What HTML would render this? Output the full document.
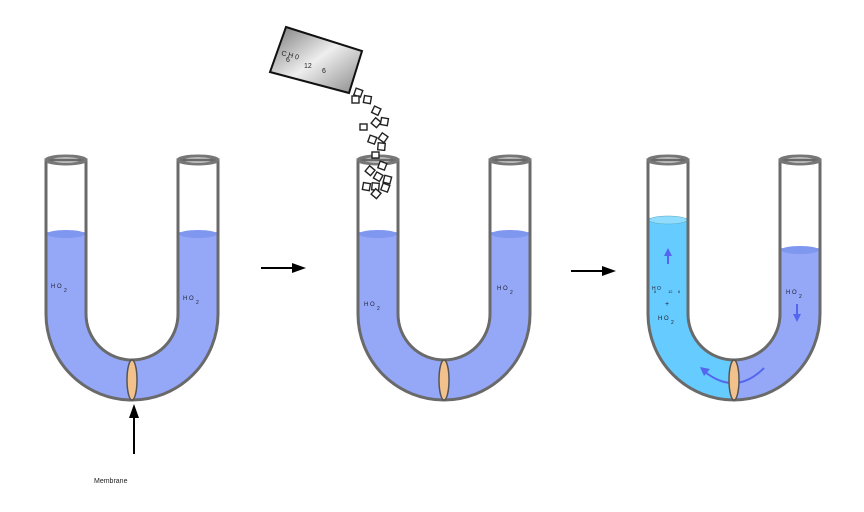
<!DOCTYPE html>
<html><head><meta charset="utf-8"><style>
html,body{margin:0;padding:0;background:#fff;width:864px;height:512px;overflow:hidden}
svg{display:block}
text{font-family:"Liberation Sans",sans-serif}
</style></head><body>
<svg width="864" height="512" viewBox="0 0 864 512" xmlns="http://www.w3.org/2000/svg">
<defs>
<linearGradient id="glass" x1="0" x2="1" y1="0" y2="0">
<stop offset="0" stop-color="#555"/><stop offset="0.5" stop-color="#ddd"/><stop offset="1" stop-color="#333"/>
</linearGradient>
<linearGradient id="box" x1="0" x2="1" y1="0" y2="1">
<stop offset="0" stop-color="#777"/><stop offset="0.5" stop-color="#eee"/><stop offset="1" stop-color="#888"/>
</linearGradient>
<path id="U" d="M46,160 L46,314 A86,86 0 0 0 218,314 L218,160 L178,160 L178,314 A46,46 0 0 1 86,314 L86,160 Z"/>
<clipPath id="cu"><use href="#U"/></clipPath>
</defs>

<!-- Tube 1 -->
<g>
<g clip-path="url(#cu)">
<rect x="40" y="232" width="190" height="180" fill="#95a8f8"/>
</g>
<ellipse cx="66" cy="234" rx="19" ry="4" fill="#8097f0"/>
<ellipse cx="198" cy="234" rx="19" ry="4" fill="#8097f0"/>
<use href="#U" fill="none" stroke="#6a6a6a" stroke-width="3"/>
<ellipse cx="66" cy="160" rx="20" ry="4" fill="none" stroke="#777" stroke-width="3"/>
<ellipse cx="198" cy="160" rx="20" ry="4" fill="none" stroke="#777" stroke-width="3"/>
<ellipse cx="132" cy="380" rx="5" ry="20" fill="#f3c28c" stroke="#555" stroke-width="1.5"/>
<text x="51" y="288" font-size="6" fill="#223">H O</text><text x="64" y="292" font-size="5" fill="#223">2</text>
<text x="183" y="300" font-size="6" fill="#223">H O</text><text x="196" y="304" font-size="5" fill="#223">2</text>
</g>

<!-- Tube 2 -->
<g transform="translate(312,0)">
<g clip-path="url(#cu)">
<rect x="40" y="232" width="190" height="180" fill="#95a8f8"/>
</g>
<ellipse cx="66" cy="234" rx="19" ry="4" fill="#8097f0"/>
<ellipse cx="198" cy="234" rx="19" ry="4" fill="#8097f0"/>
<use href="#U" fill="none" stroke="#6a6a6a" stroke-width="3"/>
<ellipse cx="66" cy="160" rx="20" ry="4" fill="none" stroke="#777" stroke-width="3"/>
<ellipse cx="198" cy="160" rx="20" ry="4" fill="none" stroke="#777" stroke-width="3"/>
<ellipse cx="132" cy="380" rx="5" ry="20" fill="#f3c28c" stroke="#555" stroke-width="1.5"/>
<text x="52" y="306" font-size="6" fill="#223">H O</text><text x="65" y="310" font-size="5" fill="#223">2</text>
<text x="185" y="290" font-size="6" fill="#223">H O</text><text x="198" y="294" font-size="5" fill="#223">2</text>
</g>

<!-- Tube 3 -->
<g transform="translate(602,0)">
<g clip-path="url(#cu)">
<rect x="40" y="218" width="92" height="200" fill="#66ccff"/>
<rect x="132" y="248" width="100" height="170" fill="#95a8f8"/>
</g>
<ellipse cx="66" cy="220" rx="19" ry="4" fill="#8fdcff" stroke="#5ab" stroke-width="0.5"/>
<ellipse cx="198" cy="250" rx="19" ry="4" fill="#8097f0"/>
<use href="#U" fill="none" stroke="#6a6a6a" stroke-width="3"/>
<ellipse cx="66" cy="160" rx="20" ry="4" fill="none" stroke="#777" stroke-width="3"/>
<ellipse cx="198" cy="160" rx="20" ry="4" fill="none" stroke="#777" stroke-width="3"/>
<path d="M162,368 Q134,396 103,372" fill="none" stroke="#5566ee" stroke-width="2"/>
<polygon points="98,367 108,369 102,376" fill="#5566ee"/>
<ellipse cx="132" cy="380" rx="5" ry="20" fill="#f3c28c" stroke="#555" stroke-width="1.5"/>
<line x1="66" y1="264" x2="66" y2="254" stroke="#5566ee" stroke-width="2"/>
<polygon points="62,256 70,256 66,248" fill="#5566ee"/>
<line x1="195" y1="304" x2="195" y2="316" stroke="#5566ee" stroke-width="2"/>
<polygon points="191,314 199,314 195,322" fill="#5566ee"/>
<text x="50" y="290" font-size="5" fill="#223">H O</text>
<text x="52" y="293" font-size="4" fill="#223">6</text>
<text x="66" y="293" font-size="4" fill="#223">12</text>
<text x="76" y="293" font-size="4" fill="#223">6</text>
<text x="63" y="306" font-size="7" fill="#223">+</text>
<text x="56" y="320" font-size="6" fill="#223">H O</text><text x="69" y="324" font-size="5" fill="#223">2</text>
<text x="184" y="294" font-size="6" fill="#223">H O</text><text x="197" y="298" font-size="5" fill="#223">2</text>
</g>

<!-- arrows -->
<line x1="261" y1="268" x2="295" y2="268" stroke="#000" stroke-width="2"/>
<polygon points="292,263 306,268 292,273" fill="#000"/>
<line x1="571" y1="271" x2="605" y2="271" stroke="#000" stroke-width="2"/>
<polygon points="602,266 616,271 602,276" fill="#000"/>
<line x1="134" y1="454" x2="134" y2="414" stroke="#000" stroke-width="2"/>
<polygon points="129,418 134,404 139,418" fill="#000"/>
<text x="94" y="483" font-size="7" fill="#222">Membrane</text>

<!-- box -->
<polygon points="286,27 362,51 349,93 270,72" fill="url(#box)" stroke="#111" stroke-width="2"/>
<text x="281" y="55" font-size="7" fill="#222" transform="rotate(15 281 55)">C H  0</text>
<text x="286" y="62" font-size="7" fill="#222">6</text>
<text x="304" y="68" font-size="7" fill="#222">12</text>
<text x="322" y="73" font-size="7" fill="#222">6</text>

<!-- cubes -->
<g fill="#fff" stroke="#222" stroke-width="1.4">
<rect x="355" y="89" width="7" height="7" transform="rotate(20 358 92)"/>
<rect x="352" y="96" width="7" height="7"/>
<rect x="364" y="96" width="7" height="7" transform="rotate(10 367 99)"/>
<rect x="373" y="107" width="7" height="7" transform="rotate(25 376 110)"/>
<rect x="373" y="119" width="7" height="7" transform="rotate(40 376 122)"/>
<rect x="381" y="118" width="7" height="7" transform="rotate(10 384 121)"/>
<rect x="360" y="124" width="7" height="6"/>
<rect x="369" y="136" width="7" height="7" transform="rotate(20 372 139)"/>
<rect x="380" y="134" width="7" height="7" transform="rotate(35 383 137)"/>
<rect x="378" y="143" width="7" height="7" transform="rotate(5 381 146)"/>
<rect x="372" y="152" width="7" height="6"/>
<rect x="379" y="162" width="7" height="7" transform="rotate(20 382 165)"/>
<rect x="367" y="167" width="7" height="7" transform="rotate(40 370 170)"/>
<rect x="375" y="173" width="7" height="7" transform="rotate(30 378 176)"/>
<rect x="384" y="176" width="7" height="7" transform="rotate(15 387 179)"/>
<rect x="363" y="183" width="7" height="7" transform="rotate(10 366 186)"/>
<rect x="372" y="183" width="7" height="7" transform="rotate(5 375 186)"/>
<rect x="382" y="184" width="7" height="7" transform="rotate(20 385 187)"/>
<rect x="373" y="190" width="7" height="7" transform="rotate(40 376 193)"/>
</g>
</svg>
</body></html>
